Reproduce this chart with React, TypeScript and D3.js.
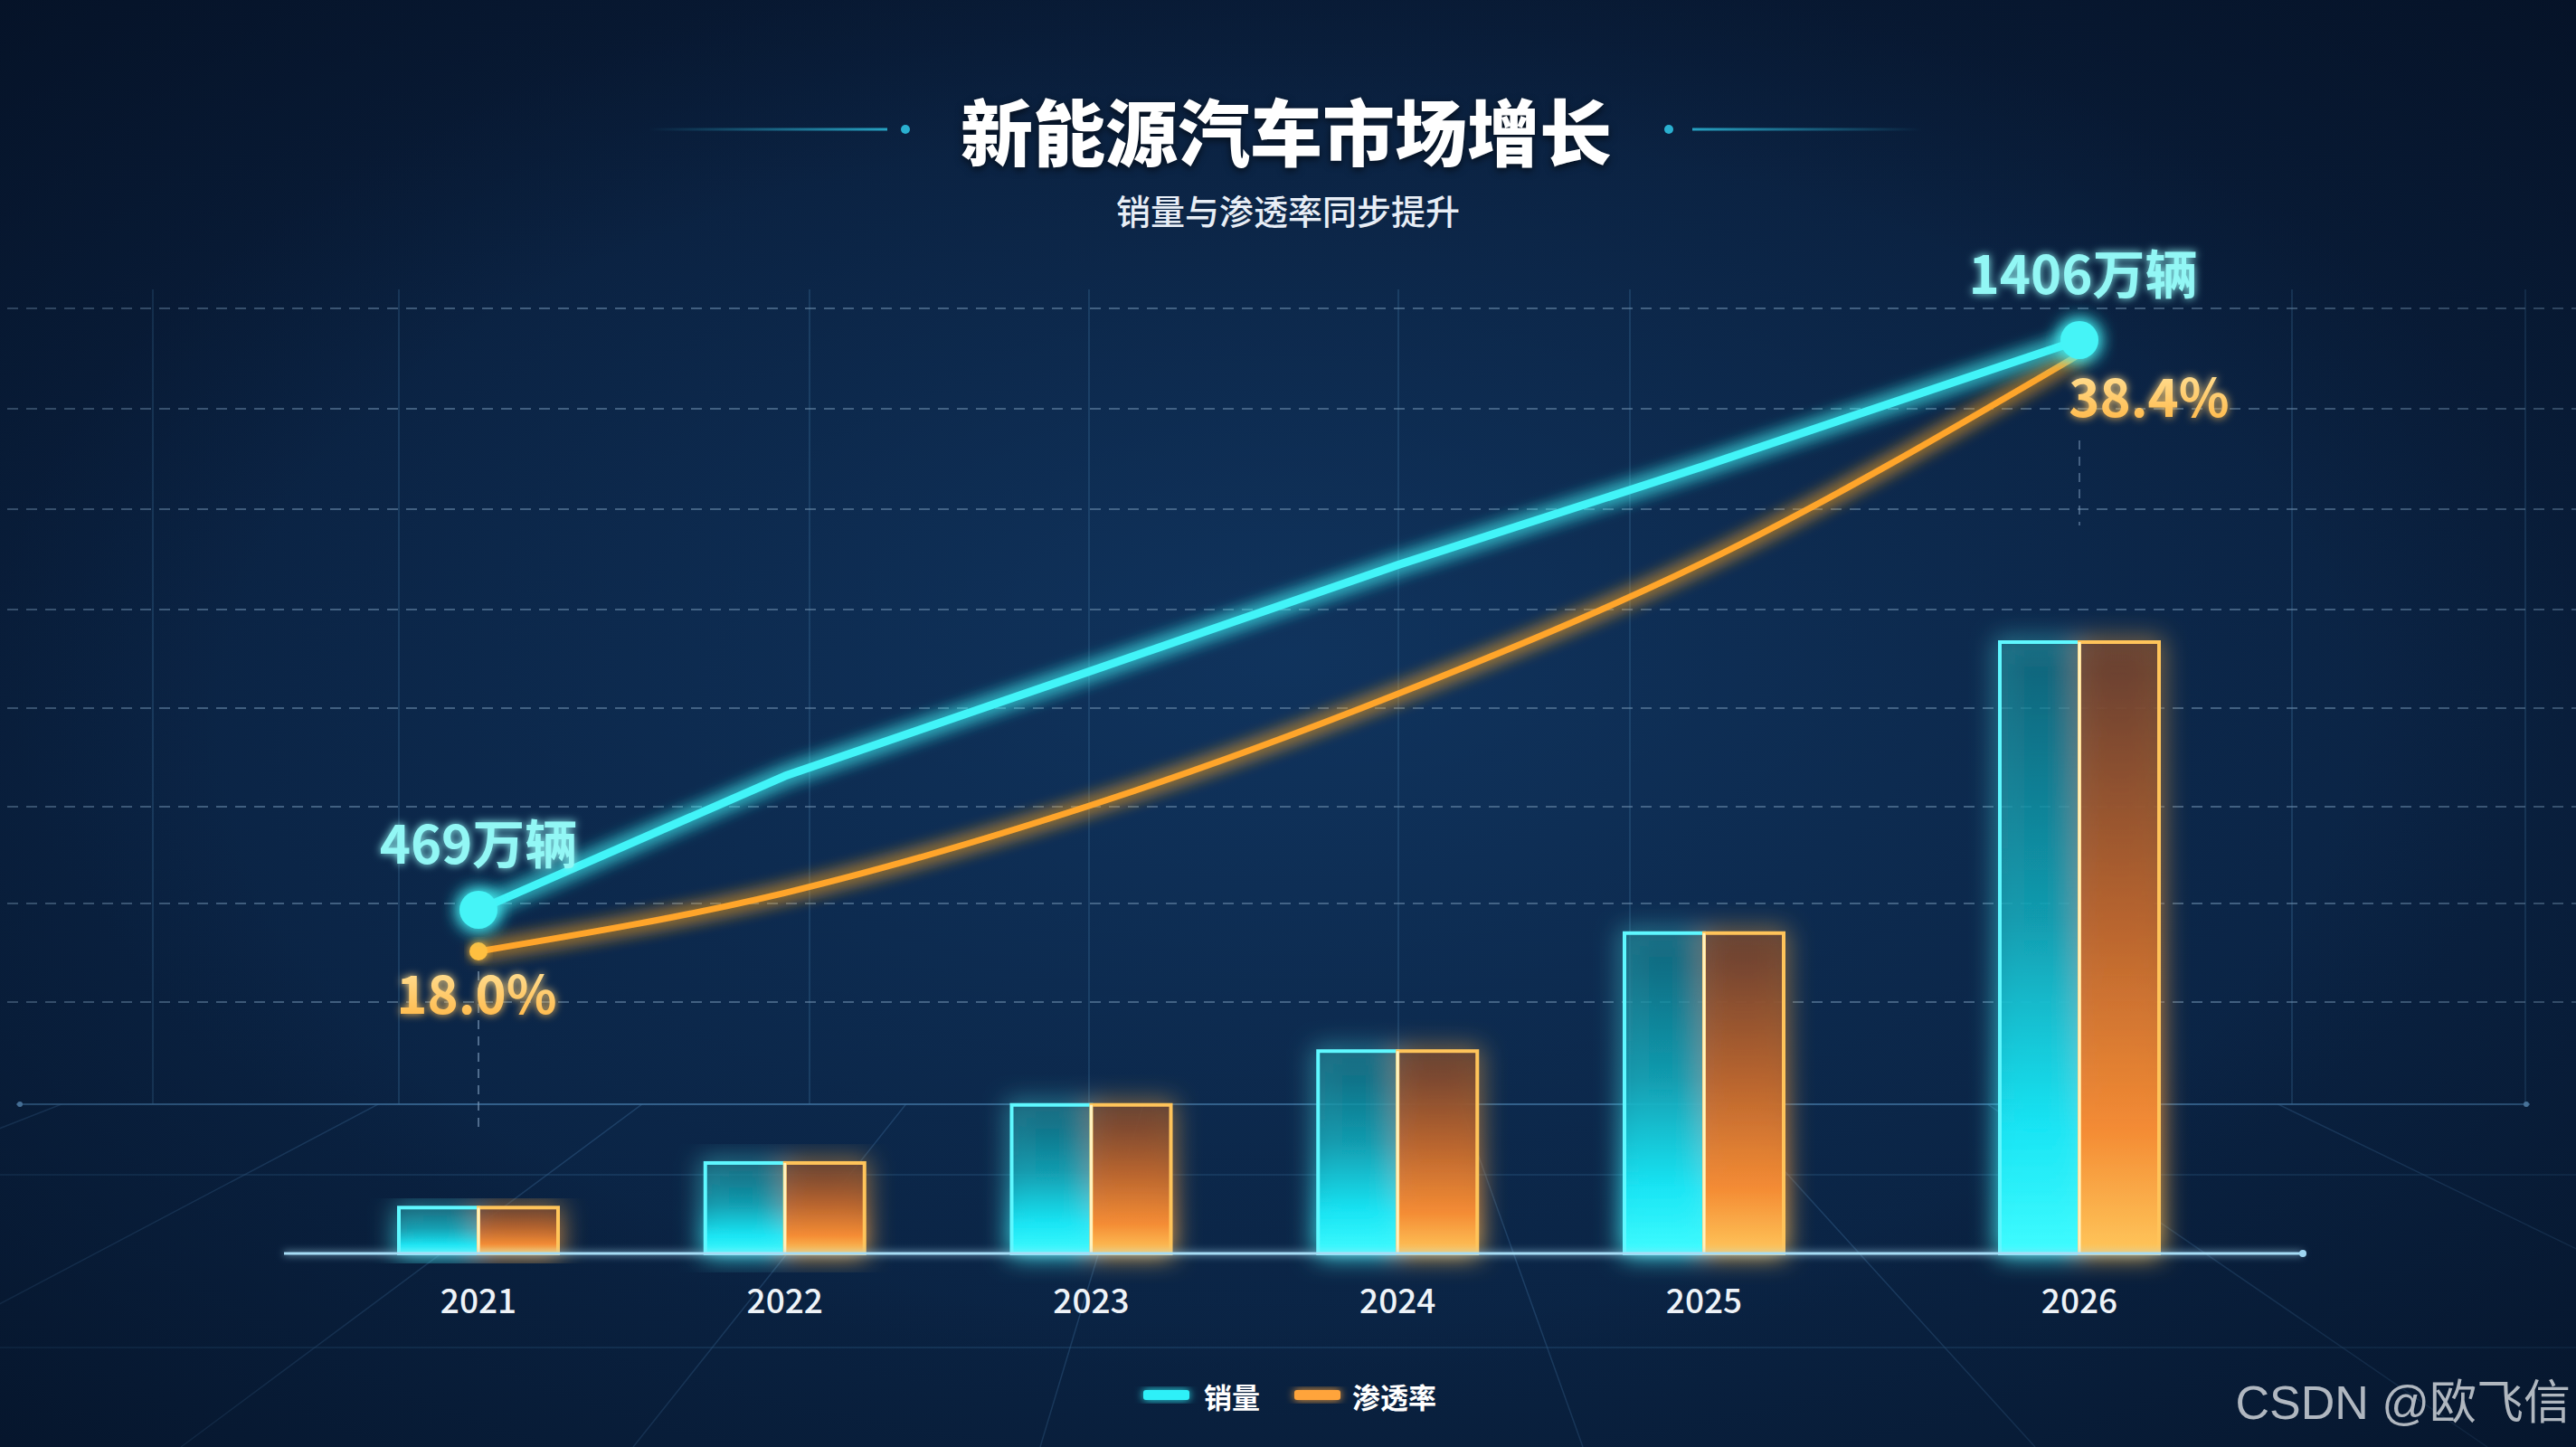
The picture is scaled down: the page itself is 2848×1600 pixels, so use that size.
import * as d3 from "d3";

const W = 2848;
const H = 1600;

// data
const years = [2021, 2022, 2023, 2024, 2025, 2026];
const sales = [469, 689, 862, 1036, 1199, 1406]; // 万辆
const penetration = [18.0, 20.0, 23.0, 26.8, 31.3, 38.4]; // %
const barIndex = [7.5, 14.8, 24.3, 33.1, 52.4, 100]; // relative bar height
const legendItems = [
  { label: "销量", color: "#2ef0f8" },
  { label: "渗透率", color: "#ffa43a" },
];
const gridYs = [341, 452, 563, 674, 783, 892, 999, 1108];
const gridXs = [169, 441, 895, 1204, 1546, 1802, 2534, 2792];
const floorFan = [-900, -300, 200, 700, 1150, 1750, 2250, 2750, 3300, 3900];

const FONT = "'Noto Sans CJK SC', 'Noto Sans', sans-serif";

export default function App() {
  const x = d3.scaleLinear().domain([2021, 2025, 2026]).range([529, 1884, 2299]);
  const ySales = d3.scaleLinear().domain([469, 1406]).range([1006, 376]);
  const yPen = d3.scaleLinear().domain([18, 38.4]).range([1052, 392]);
  const yBar = d3.scaleLinear().domain([0, 100]).range([1386, 710]);
  const barW = 176;
  const baseY = yBar(0);

  const salesLine = d3
    .line<number>()
    .x((_, i) => x(years[i]))
    .y((d) => ySales(d))
    .curve(d3.curveLinear);

  const penLine = d3
    .line<number>()
    .x((_, i) => x(years[i]))
    .y((d) => yPen(d))
    .curve(d3.curveMonotoneX);

  const last = years.length - 1;
  const vp = { x: 1424, y: 690 };

  return (
    <svg
      width={W}
      height={H}
      viewBox={`0 0 ${W} ${H}`}
      style={{ position: "absolute", left: 0, top: 0, display: "block" }}
    >
      <defs>
        <linearGradient id="bg" x1="0" y1="0" x2="0" y2="1">
          <stop offset="0%" stopColor="#091c38" />
          <stop offset="55%" stopColor="#0a2242" />
          <stop offset="100%" stopColor="#0a2343" />
        </linearGradient>
        <radialGradient id="centerGlow" cx="50%" cy="45%" r="50%">
          <stop offset="0%" stopColor="#16467a" stopOpacity={0.5} />
          <stop offset="100%" stopColor="#16467a" stopOpacity={0} />
        </radialGradient>
        <radialGradient id="vignette" cx="50%" cy="50%" r="75%">
          <stop offset="55%" stopColor="#030c1c" stopOpacity={0} />
          <stop offset="100%" stopColor="#030c1c" stopOpacity={0.65} />
        </radialGradient>
        <linearGradient id="cyanBar" x1="0" y1="0" x2="0" y2="1">
          <stop offset="0%" stopColor="#137a8c" stopOpacity={0.45} />
          <stop offset="45%" stopColor="#13a6b8" stopOpacity={0.7} />
          <stop offset="80%" stopColor="#19e6f5" stopOpacity={0.95} />
          <stop offset="100%" stopColor="#3ffcff" />
        </linearGradient>
        <linearGradient id="orangeBar" x1="0" y1="0" x2="0" y2="1">
          <stop offset="0%" stopColor="#6a3f30" stopOpacity={0.75} />
          <stop offset="45%" stopColor="#b8642e" stopOpacity={0.9} />
          <stop offset="80%" stopColor="#f48c34" />
          <stop offset="100%" stopColor="#ffc65a" />
        </linearGradient>
        <linearGradient id="penText" x1="0" y1="0" x2="0" y2="1">
          <stop offset="0%" stopColor="#ffe9a8" />
          <stop offset="100%" stopColor="#ffb23c" />
        </linearGradient>
        <linearGradient id="lineL" x1="0" y1="0" x2="1" y2="0">
          <stop offset="0%" stopColor="#2ab0d0" stopOpacity={0} />
          <stop offset="100%" stopColor="#2ab0d0" stopOpacity={0.9} />
        </linearGradient>
        <linearGradient id="lineR" x1="0" y1="0" x2="1" y2="0">
          <stop offset="0%" stopColor="#2ab0d0" stopOpacity={0.9} />
          <stop offset="100%" stopColor="#2ab0d0" stopOpacity={0} />
        </linearGradient>
        <filter id="glow" x="-50%" y="-50%" width="200%" height="200%">
          <feGaussianBlur stdDeviation="10" result="b" />
          <feMerge>
            <feMergeNode in="b" />
            <feMergeNode in="b" />
            <feMergeNode in="SourceGraphic" />
          </feMerge>
        </filter>
        <filter id="softGlow" x="-30%" y="-30%" width="160%" height="160%">
          <feGaussianBlur stdDeviation="5" result="b" />
          <feMerge>
            <feMergeNode in="b" />
            <feMergeNode in="SourceGraphic" />
          </feMerge>
        </filter>
        <filter id="lineGlow" filterUnits="userSpaceOnUse" x={0} y={0} width={W} height={H}>
          <feGaussianBlur stdDeviation="4" result="b" />
          <feMerge>
            <feMergeNode in="b" />
            <feMergeNode in="SourceGraphic" />
          </feMerge>
        </filter>
        <filter id="barGlow" x="-40%" y="-20%" width="180%" height="140%">
          <feGaussianBlur stdDeviation="14" result="b" />
          <feMerge>
            <feMergeNode in="b" />
            <feMergeNode in="SourceGraphic" />
          </feMerge>
        </filter>
        <clipPath id="floorClip">
          <rect x={0} y={1221} width={W} height={H - 1221} />
        </clipPath>
      </defs>

      {/* background */}
      <rect width={W} height={H} fill="url(#bg)" />
      <rect width={W} height={H} fill="url(#centerGlow)" />

      {/* vertical grid */}
      {gridXs.map((gx) => (
        <line key={gx} x1={gx} x2={gx} y1={320} y2={1221} stroke="#3a6a94" strokeOpacity={0.45} strokeWidth={1.5} />
      ))}

      {/* dashed horizontal grid */}
      {gridYs.map((gy) => (
        <line
          key={gy}
          x1={8}
          x2={W}
          y1={gy}
          y2={gy}
          stroke="#6f8fae"
          strokeOpacity={0.55}
          strokeWidth={2}
          strokeDasharray="12 9"
        />
      ))}

      {/* floor perspective */}
      <g clipPath="url(#floorClip)">
        {floorFan.map((fx) => (
          <line key={fx} x1={vp.x} y1={vp.y} x2={fx} y2={H} stroke="#4a7fae" strokeOpacity={0.3} strokeWidth={1.5} />
        ))}
      </g>
      <line x1={18} x2={2797} y1={1221} y2={1221} stroke="#3d6f9c" strokeOpacity={0.8} strokeWidth={2} />
      <circle cx={22} cy={1221} r={3} fill="#5f95c4" />
      <circle cx={2793} cy={1221} r={3} fill="#5f95c4" />
      <line x1={0} x2={W} y1={1299} y2={1299} stroke="#2f5d88" strokeOpacity={0.45} strokeWidth={1.5} />
      <line x1={0} x2={W} y1={1490} y2={1490} stroke="#2f5d88" strokeOpacity={0.45} strokeWidth={1.5} />

      {/* dashed leader lines */}
      <line x1={x(years[0])} x2={x(years[0])} y1={yPen(penetration[0]) + 22} y2={1253} stroke="#7e9cbc" strokeOpacity={0.6} strokeWidth={2} strokeDasharray="10 8" />
      <line x1={x(years[last])} x2={x(years[last])} y1={487} y2={581} stroke="#7e9cbc" strokeOpacity={0.5} strokeWidth={2} strokeDasharray="10 8" />

      <rect width={W} height={H} fill="url(#vignette)" />

      {/* title */}
      <rect x={717} y={141.5} width={264} height={3} fill="url(#lineL)" />
      <circle cx={1001} cy={143} r={5} fill="#2ab0d0" />
      <circle cx={1845} cy={143} r={5} fill="#2ab0d0" />
      <rect x={1871} y={141.5} width={254} height={3} fill="url(#lineR)" />
      <text
        x={1422}
        y={142}
        textAnchor="middle"
        dominantBaseline="central"
        fontFamily={FONT}
        fontWeight={900}
        fontSize={80}
        fill="#ffffff"
        style={{ filter: "drop-shadow(0 3px 4px rgba(0,0,0,0.6))" }}
      >
        新能源汽车市场增长
      </text>
      <text
        x={1424}
        y={231}
        textAnchor="middle"
        dominantBaseline="central"
        fontFamily={FONT}
        fontWeight={500}
        fontSize={38}
        fill="#e8eef6"
      >
        销量与渗透率同步提升
      </text>

      {/* bars */}
      {years.map((yr, i) => {
        const cx = x(yr);
        const top = yBar(barIndex[i]);
        const h = baseY - top;
        return (
          <g key={yr}>
            <g filter="url(#barGlow)">
              <rect x={cx - barW / 2} y={top} width={barW / 2} height={h} fill="url(#cyanBar)" stroke="#5ff8ff" strokeWidth={4} />
              <rect x={cx} y={top} width={barW / 2} height={h} fill="url(#orangeBar)" stroke="#ffc45a" strokeWidth={4} />
            </g>
            <line x1={cx} x2={cx} y1={top} y2={baseY} stroke="#fff2c0" strokeWidth={3} />
          </g>
        );
      })}

      {/* baseline */}
      <rect x={314} y={baseY - 1.5} width={2232} height={3} fill="#a6dcf5" filter="url(#lineGlow)" />
      <circle cx={2546} cy={baseY} r={4} fill="#9fd6f2" />

      {/* year labels */}
      {years.map((yr) => (
        <text
          key={yr}
          x={x(yr)}
          y={1436}
          textAnchor="middle"
          dominantBaseline="central"
          fontFamily={FONT}
          fontWeight={500}
          fontSize={37}
          fill="#eef3f8"
        >
          {yr}
        </text>
      ))}

      {/* lines */}
      <path d={penLine(penetration) ?? ""} fill="none" stroke="#ffa529" strokeWidth={7} strokeLinecap="round" strokeLinejoin="round" filter="url(#glow)" />
      <path d={salesLine(sales) ?? ""} fill="none" stroke="#42f4f8" strokeWidth={9} strokeLinecap="round" strokeLinejoin="round" filter="url(#glow)" />

      {/* markers */}
      <circle cx={x(years[0])} cy={yPen(penetration[0])} r={10} fill="#ffbf3f" filter="url(#softGlow)" />
      <circle cx={x(years[0])} cy={ySales(sales[0])} r={21} fill="#45f4f7" filter="url(#glow)" />
      <circle cx={x(years[last])} cy={ySales(sales[last])} r={21} fill="#45f4f7" filter="url(#glow)" />

      {/* value labels */}
      {[0, last].map((i) => (
        <text
          key={`s${i}`}
          x={x(years[i]) + (i === 0 ? 0 : 4)}
          y={ySales(sales[i]) - 76}
          textAnchor="middle"
          dominantBaseline="central"
          fontFamily={FONT}
          fontWeight={700}
          fontSize={58}
          fill="#92f7f5"
          filter="url(#softGlow)"
        >
          {`${sales[i]}万辆`}
        </text>
      ))}
      {[0, last].map((i) => (
        <text
          key={`p${i}`}
          x={x(years[i]) + (i === 0 ? -2 : 77)}
          y={yPen(penetration[i]) + 44}
          textAnchor="middle"
          dominantBaseline="central"
          fontFamily={FONT}
          fontWeight={700}
          fontSize={58}
          fill="url(#penText)"
          filter="url(#softGlow)"
        >
          {`${penetration[i].toFixed(1)}%`}
        </text>
      ))}

      {/* legend */}
      <g fontFamily={FONT} fontWeight={700} fontSize={31} fill="#ffffff">
        <rect x={1264} y={1537} width={51} height={11} rx={3} fill={legendItems[0].color} filter="url(#softGlow)" />
        <text x={1331} y={1543} dominantBaseline="central">
          {legendItems[0].label}
        </text>
        <rect x={1431} y={1537} width={51} height={11} rx={3} fill={legendItems[1].color} filter="url(#softGlow)" />
        <text x={1495} y={1543} dominantBaseline="central">
          {legendItems[1].label}
        </text>
      </g>

      {/* watermark */}
      <text
        x={2842}
        y={1551}
        textAnchor="end"
        dominantBaseline="central"
        fontFamily="'Liberation Sans', 'Noto Sans CJK SC', sans-serif"
        fontSize={52}
        fill="#c3c9cf"
        fillOpacity={0.9}
      >
        CSDN @欧飞信
      </text>
    </svg>
  );
}
